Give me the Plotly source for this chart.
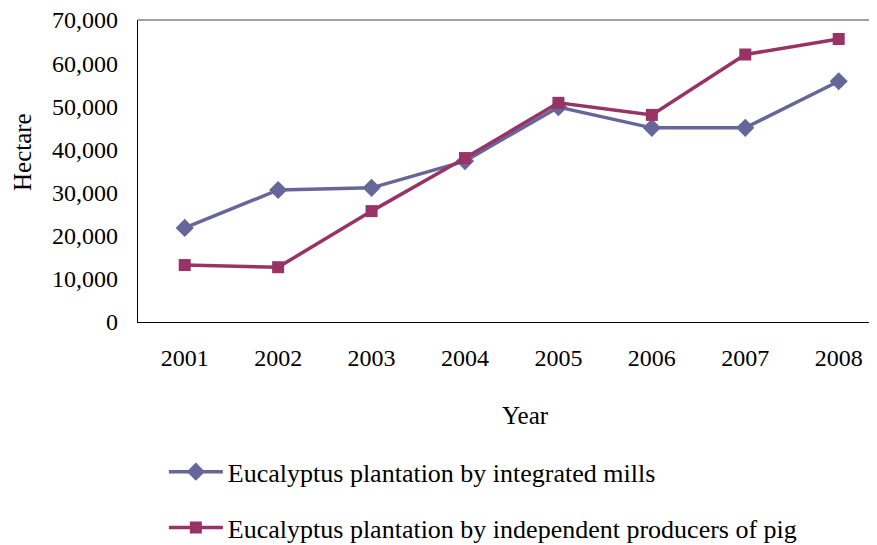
import plotly.graph_objects as go

years = ["2001", "2002", "2003", "2004", "2005", "2006", "2007", "2008"]
mills = [21800, 30600, 31100, 37300, 49800, 45000, 45000, 55800]
independent = [13200, 12700, 25700, 38000, 50800, 48000, 62000, 65600]

series_names = [
    "Eucalyptus plantation by integrated mills",
    "Eucalyptus plantation by independent producers of pig",
]
y_ticks = [0, 10000, 20000, 30000, 40000, 50000, 60000, 70000]

FONT = "Liberation Serif, Times New Roman, serif"
BLUE = "#666699"
RED = "#993366"

fig = go.Figure()
fig.add_trace(go.Scatter(
    x=years, y=mills, name=series_names[0], mode="lines+markers",
    line=dict(color=BLUE, width=3.5),
    marker=dict(symbol="diamond", size=14, color=BLUE),
    legendgroup="a",
))
fig.add_trace(go.Scatter(
    x=years, y=independent, name=series_names[1], mode="lines+markers",
    line=dict(color=RED, width=3.5),
    marker=dict(symbol="square", size=12, color=RED),
    legendgroup="b",
))

fig.update_layout(
    width=869, height=537,
    margin=dict(l=130, r=0, t=12, b=223, autoexpand=False),
    paper_bgcolor="white", plot_bgcolor="white",
    font=dict(family=FONT, size=24, color="black"),
    showlegend=True,
    legend=dict(
        x=0.035, y=-0.418, xanchor="left", yanchor="top",
        font=dict(family=FONT, size=26, color="black"),
        tracegroupgap=19, itemwidth=54,
        bgcolor="rgba(0,0,0,0)",
    ),
    xaxis=dict(
        type="category", range=[-0.5, 7.41], automargin=False,
        showgrid=False, zeroline=False,
        showline=True, linecolor="black", linewidth=1.2,
        ticks="outside", ticklen=14, tickcolor="rgba(0,0,0,0)",
        tickfont=dict(family=FONT, size=24), ticklabeloverflow="allow",
    ),
    yaxis=dict(
        range=[0, 70000], tickvals=y_ticks, tickformat=",d", automargin=False,
        showgrid=False, zeroline=False,
        showline=True, linecolor="black", linewidth=1.2,
        ticks="outside", ticklen=14, tickcolor="rgba(0,0,0,0)",
        tickfont=dict(family=FONT, size=24), ticklabeloverflow="allow",
    ),
    shapes=[dict(type="line", xref="paper", yref="paper", x0=0, x1=1, y0=1, y1=1,
                 line=dict(color="#808080", width=1.5))],
    annotations=[
        dict(text="Year", xref="paper", yref="paper", x=(525 - 138) / 739, y=(322 - 415) / 302,
             showarrow=False, font=dict(family=FONT, size=25), xanchor="center", yanchor="middle"),
        dict(text="Hectare", xref="paper", yref="paper", x=-(138 - 22) / 739, y=(322 - 152) / 302,
             showarrow=False, textangle=-90, font=dict(family=FONT, size=25),
             xanchor="center", yanchor="middle"),
    ],
)

fig.write_html("out.html")
